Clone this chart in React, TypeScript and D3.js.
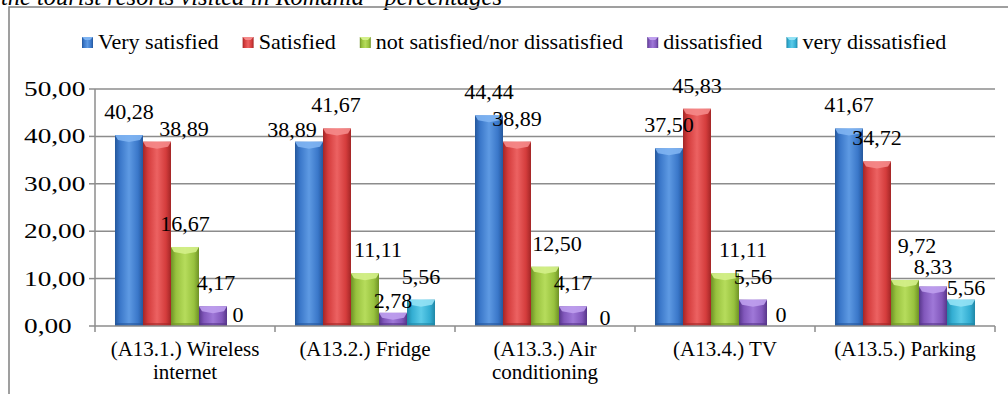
import React from "react";
import * as d3 from "d3";

const categories = ["(A13.1.) Wireless internet", "(A13.2.) Fridge", "(A13.3.) Air conditioning", "(A13.4.) TV", "(A13.5.) Parking"];
const categoryLines = [["(A13.1.) Wireless", "internet"], ["(A13.2.) Fridge"], ["(A13.3.) Air", "conditioning"], ["(A13.4.) TV"], ["(A13.5.) Parking"]];
const seriesNames = ["Very satisfied", "Satisfied", "not satisfied/nor dissatisfied", "dissatisfied", "very dissatisfied"];
const verySatisfied = [40.28, 38.89, 44.44, 37.5, 41.67];
const satisfied = [38.89, 41.67, 38.89, 45.83, 34.72];
const neutral = [16.67, 11.11, 12.5, 11.11, 9.72];
const dissatisfied = [4.17, 2.78, 4.17, 5.56, 8.33];
const veryDissatisfied = [0, 5.56, 0, 0, 5.56];
const yTicks = [0, 10, 20, 30, 40, 50];
const title = "the tourist resorts visited in Romania - percentages";

const seriesValues = [verySatisfied, satisfied, neutral, dissatisfied, veryDissatisfied];

// label nudges (layout only), per series per category
const labelDx = [
  [0, -17, 0, 0, 0],
  [27, -1, 0, 0, 0],
  [0, 13, 12, 18, 12],
  [3, 0, 0, 0, 0],
  [-3, 0, 4, 0, 5],
];
const labelDy = [
  [0, 11, 0, 0, 0],
  [10, 0, 0, 0, 0],
  [0, 0, 0, 0, -11],
  [0, 11, 0, 0, 3],
  [12, 0, 15, 12, 11],
];

const palette = [
  { dark: "#24579c", base: "#3a77c9", light: "#5e9ae3", cap: "#7fb4f2" },
  { dark: "#a32626", base: "#d43c3c", light: "#ec6262", cap: "#f58a8a" },
  { dark: "#6f9226", base: "#98c23e", light: "#b6dc5c", cap: "#d4f08a" },
  { dark: "#57368a", base: "#8157bb", light: "#9f78d8", cap: "#bfa0ee" },
  { dark: "#1f87a6", base: "#33add2", light: "#5ccbe8", cap: "#93e2f5" },
];

const W = 1008;
const H = 394;
const SERIF = "Liberation Serif";
const BASE_FS = 21;
const SX = 1.05;

function fmt(v: number) {
  if (v === 0) return "0";
  return v.toFixed(2).replace(".", ",");
}

function textWidth(t: string, font: string) {
  const c = document.createElement("canvas").getContext("2d");
  if (!c) return t.length * 10;
  c.font = font;
  return c.measureText(t).width;
}

export default function App() {
  const x0 = d3.scaleBand<string>().domain(categories).range([95, 995]).paddingInner(0).paddingOuter(0);
  const x1 = d3
    .scaleBand<string>()
    .domain(seriesNames)
    .range([0, x0.bandwidth()])
    .paddingInner(0)
    .paddingOuter(0.714);
  const y = d3.scaleLinear().domain([0, 50]).range([326, 89]);

  const legendFont = `${BASE_FS}px "Liberation Serif"`;
  let lx = 82;
  const legendItems = seriesNames.map((name, i) => {
    const item = { name, i, x: lx };
    lx += 16 + textWidth(name, legendFont) * SX + 24;
    return item;
  });

  return (
    <svg width={W} height={H} style={{ position: "absolute", left: 0, top: 0, background: "#fff" }}>
      <defs>
        {palette.map((p, i) => (
          <linearGradient key={i} id={`g${i}`} x1="0" x2="1" y1="0" y2="0">
            <stop offset="0" stopColor={p.dark} />
            <stop offset="0.18" stopColor={p.base} />
            <stop offset="0.5" stopColor={p.light} />
            <stop offset="0.82" stopColor={p.base} />
            <stop offset="1" stopColor={p.dark} />
          </linearGradient>
        ))}
      </defs>
      <rect x={0} y={0} width={W} height={H} fill="#fff" />
      {/* cropped title */}
      <text x={502} y={5} textAnchor="end" fontFamily={SERIF} fontSize={24.5} fontStyle="italic" fill="#000">
        <tspan>{title}</tspan>
      </text>
      {/* chart border */}
      <rect x={9} y={7} width={1020} height={420} fill="none" stroke="#808080" strokeWidth={1.5} />

      {/* legend */}
      {legendItems.map((it) => (
        <g key={it.name}>
          <rect x={it.x} y={37} width={11} height={11} fill={`url(#g${it.i})`} />
          <polygon
            points={`${it.x},37 ${it.x + 11},37 ${it.x + 8},40 ${it.x + 3},40`}
            fill={palette[it.i].cap}
          />
          <text transform={`translate(${it.x + 16},49) scale(${SX},1)`} fontFamily={SERIF} fontSize={BASE_FS} fill="#000">
            <tspan>{it.name}</tspan>
          </text>
        </g>
      ))}

      {/* gridlines */}
      {yTicks
        .filter((t) => t > 0)
        .map((t) => (
          <line key={t} x1={95} x2={995} y1={y(t)} y2={y(t)} stroke="#8c8c8c" strokeWidth={1.5} />
        ))}

      {/* y labels */}
      {yTicks.map((t) => (
        <g key={t}>
          <line x1={89} x2={95} y1={y(t)} y2={y(t)} stroke="#8c8c8c" strokeWidth={1.5} />
          <text
            transform={`translate(24,${y(t) + 7}) scale(1.3,1)`}
            fontFamily={SERIF}
            fontSize={BASE_FS}
            fill="#000"
          >
            <tspan>{t.toFixed(2).replace(".", ",")}</tspan>
          </text>
        </g>
      ))}

      {/* bars */}
      {categories.map((c, ci) => (
        <g key={c}>
          {seriesNames.map((s, si) => {
            const v = seriesValues[si][ci];
            if (v <= 0) return null;
            const bx = (x0(c) as number) + (x1(s) as number);
            const bw = x1.bandwidth();
            const top = y(v);
            const bottom = y(0);
            const p = palette[si];
            return (
              <g key={s}>
                <rect x={bx} y={top} width={bw} height={bottom - top} fill={`url(#g${si})`} />
                <polygon
                  points={`${bx},${top} ${bx + bw},${top} ${bx + bw - 3},${top + 5} ${bx + bw / 2},${top + 7} ${bx + 3},${top + 5}`}
                  fill={p.cap}
                  opacity={0.9}
                />
                <rect x={bx} y={bottom - 3} width={bw} height={3} fill={p.dark} opacity={0.6} />
              </g>
            );
          })}
        </g>
      ))}

      {/* axes */}
      <line x1={95} x2={95} y1={y(50)} y2={y(0)} stroke="#8c8c8c" strokeWidth={1.5} />
      <line x1={95} x2={995} y1={y(0)} y2={y(0)} stroke="#8c8c8c" strokeWidth={1.5} />
      {[...categories.map((c) => x0(c) as number), 995].map((tx, i) => (
        <line key={i} x1={tx} x2={tx} y1={y(0)} y2={y(0) + 6} stroke="#8c8c8c" strokeWidth={1.5} />
      ))}

      {/* data labels */}
      {categories.map((c, ci) =>
        seriesNames.map((s, si) => {
          const v = seriesValues[si][ci];
          const cx = (x0(c) as number) + (x1(s) as number) + x1.bandwidth() / 2;
          return (
            <text
              key={`${c}-${s}`}
              transform={`translate(${cx + labelDx[si][ci]},${y(v) - 16 + labelDy[si][ci]}) scale(${SX},1)`}
              textAnchor="middle"
              fontFamily={SERIF}
              fontSize={BASE_FS}
              fill="#000"
            >
              <tspan>{fmt(v)}</tspan>
            </text>
          );
        })
      )}

      {/* category labels */}
      {categories.map((c, ci) => (
        <text key={c} x={(x0(c) as number) + x0.bandwidth() / 2} y={356} textAnchor="middle" fontFamily={SERIF} fontSize={BASE_FS} fill="#000">
          {categoryLines[ci].map((ln, li) => (
            <tspan key={li} x={(x0(c) as number) + x0.bandwidth() / 2} dy={li === 0 ? 0 : 23}>
              {ln}
            </tspan>
          ))}
        </text>
      ))}
    </svg>
  );
}
